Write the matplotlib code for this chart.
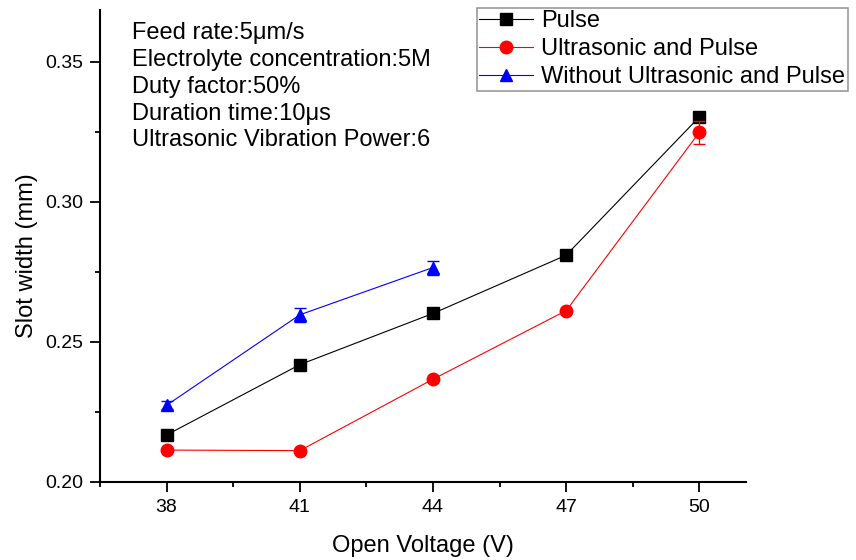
import matplotlib.pyplot as plt
from matplotlib.ticker import MultipleLocator

plt.rcParams['font.family'] = ['Liberation Sans', 'DejaVu Sans']

voltage = [38, 41, 44, 47, 50]
pulse = [0.2168, 0.2419, 0.2602, 0.2810, 0.3304]
pulse_err = [0.0010, 0.0008, 0.0018, 0.0006, 0.0018]
ultra_pulse = [0.2114, 0.2112, 0.2367, 0.2612, 0.3249]
ultra_pulse_err = [0.0005, 0.0005, 0.0005, 0.0005, 0.0042]
voltage_without = [38, 41, 44]
without = [0.2274, 0.2597, 0.2766]
without_err = [0.0015, 0.0025, 0.0025]

info_lines = [
    'Feed rate:5\u03bcm/s',
    'Electrolyte concentration:5M',
    'Duty factor:50%',
    'Duration time:10\u03bcs',
    'Ultrasonic Vibration Power:6',
]

fig = plt.figure(figsize=(8.56, 5.6), dpi=100)
ax = fig.add_axes([0.1168, 0.1393, 0.7547, 0.843])

series = [
    (voltage, pulse, pulse_err, 'black', 's', 8, 'Pulse'),
    (voltage, ultra_pulse, ultra_pulse_err, 'red', 'o', 9, 'Ultrasonic and Pulse'),
    (voltage_without, without, without_err, 'blue', '^', 9, 'Without Ultrasonic and Pulse'),
]
for x, y, err, c, m, ms, lab in series:
    ax.errorbar(x, y, yerr=err, fmt='none', ecolor=c, elinewidth=0.9, capsize=4)
    ax.plot(x, y, color=c, marker=m, markersize=ms, linewidth=0.8, label=lab)

ax.set_xlim(36.5, 51.05)
ax.set_ylim(0.20, 0.3686)
ax.set_xticks(voltage)
ax.set_xticks([v - 1.5 for v in voltage], minor=True)
ax.set_yticks([0.20, 0.25, 0.30, 0.35])
ax.yaxis.set_minor_locator(MultipleLocator(0.025))
ax.tick_params(which='major', length=7, width=1.3, labelsize=14, pad=5)
ax.tick_params(which='minor', length=3.5, width=1.3)
ax.spines['top'].set_visible(False)
ax.spines['right'].set_visible(False)
for s in ['left', 'bottom']:
    ax.spines[s].set_linewidth(1.5)

ax.set_xlabel('Open Voltage (V)', fontsize=17, labelpad=14)
ax.set_ylabel('Slot width (mm)', fontsize=17)
ax.yaxis.set_label_coords(-0.096, 0.479)

ax.text(0.049, 0.975, '\n'.join(info_lines), transform=ax.transAxes, fontsize=17,
        va='top', ha='left', linespacing=1.29)

leg = ax.legend(loc='upper left', bbox_to_anchor=(0.583, 1.005), fontsize=17, frameon=True,
                fancybox=False, edgecolor='gray', handlelength=2.25, handletextpad=0.35,
                borderpad=0.12, labelspacing=0.245, borderaxespad=0)
leg.get_frame().set_linewidth(1.2)

fig.savefig('out.png', dpi=100)
